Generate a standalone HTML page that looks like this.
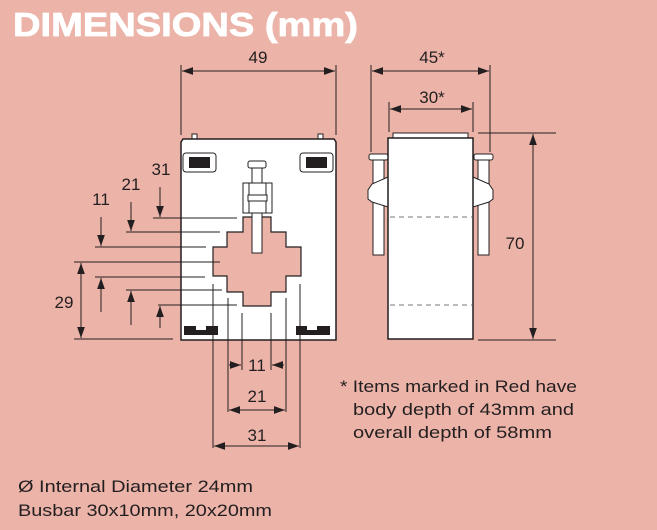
<!DOCTYPE html>
<html><head><meta charset="utf-8"><style>
html,body{margin:0;padding:0;background:#ecb3a8;}
svg{display:block}
text{font-family:"Liberation Sans",sans-serif;fill:#231f20}
</style></head><body>
<svg width="657" height="530" viewBox="0 0 657 530" xmlns="http://www.w3.org/2000/svg">
<defs>
<marker id="a" viewBox="0 0 10 10" refX="10" refY="5" markerWidth="11" markerHeight="11" markerUnits="userSpaceOnUse" orient="auto-start-reverse"><path d="M0,1.5 L10,5 L0,8.5z" fill="#231f20"/></marker>
</defs>
<rect width="657" height="530" fill="#ecb3a8"/>
<text x="13" y="36" font-size="33" font-weight="bold" style="fill:#fff;stroke:#fff;stroke-width:0.8" textLength="345" lengthAdjust="spacingAndGlyphs">DIMENSIONS (mm)</text>

<g stroke="#231f20" stroke-width="1" fill="none">
<line x1="181" y1="65" x2="181" y2="135"/><line x1="336" y1="65" x2="336" y2="135"/>
<line x1="182" y1="71" x2="335" y2="71" marker-start="url(#a)" marker-end="url(#a)"/>
<line x1="371" y1="65" x2="371" y2="152"/><line x1="490" y1="65" x2="490" y2="152"/>
<line x1="372" y1="71" x2="489" y2="71" marker-start="url(#a)" marker-end="url(#a)"/>
<line x1="389" y1="102" x2="389" y2="132"/><line x1="473" y1="102" x2="473" y2="132"/>
<line x1="390" y1="109" x2="472" y2="109" marker-start="url(#a)" marker-end="url(#a)"/>
<line x1="478" y1="133" x2="556" y2="133"/><line x1="478" y1="340" x2="556" y2="340"/>
<line x1="533" y1="134" x2="533" y2="339" marker-start="url(#a)" marker-end="url(#a)"/>
</g>

<rect x="192" y="134" width="5" height="6" fill="#fff" stroke="#231f20"/>
<rect x="318" y="134" width="5" height="6" fill="#fff" stroke="#231f20"/>
<path d="M183,139 L334,139 L336,142 L336,340 L181,340 L181,142Z" fill="#fff" stroke="#231f20" stroke-width="1.5"/>
<rect x="183" y="153" width="33" height="19" rx="3" fill="#fff" stroke="#231f20"/>
<rect x="189" y="157" width="21" height="11" fill="#231f20"/>
<rect x="300" y="153" width="33" height="19" rx="3" fill="#fff" stroke="#231f20"/>
<rect x="306" y="157" width="21" height="11" fill="#231f20"/>
<path d="M243,217 L271,217 L271,232 L286,232 L286,247 L301,247 L301,276 L286,276 L286,292 L271,292 L271,306 L243,306 L243,292 L227,292 L227,276 L213,276 L213,247 L227,247 L227,232 L243,232Z" fill="#ecb3a8" stroke="#231f20" stroke-width="1.2"/>
<rect x="252" y="168" width="10" height="85" fill="#fff" stroke="#231f20"/>
<rect x="248" y="161" width="18" height="7" rx="2" fill="#fff" stroke="#231f20"/>
<rect x="243" y="183" width="29" height="30" fill="#fff" stroke="#231f20"/>
<rect x="249" y="183" width="17" height="30" fill="#fff" stroke="#231f20"/>
<rect x="248" y="195" width="19" height="6" fill="#fff" stroke="#231f20"/>
<path d="M184,326 L218,326 L218,335 L184,335Z M196,326 L196,330 L206,330 L206,326Z" fill="#231f20" fill-rule="evenodd"/>
<path d="M296,326 L330,326 L330,335 L296,335Z M307,326 L307,330 L317,330 L317,326Z" fill="#231f20" fill-rule="evenodd"/>

<g stroke="#231f20" stroke-width="1" fill="none">
<line x1="153" y1="218" x2="237" y2="218"/>
<line x1="126" y1="232" x2="220" y2="232"/>
<line x1="95" y1="247" x2="206" y2="247"/>
<line x1="74" y1="262" x2="220" y2="262"/>
<line x1="95" y1="277" x2="205" y2="277"/>
<line x1="126" y1="290" x2="222" y2="290"/>
<line x1="158" y1="305" x2="237" y2="305"/>
<line x1="74" y1="339" x2="173" y2="339"/>
<line x1="160" y1="187" x2="160" y2="217" marker-end="url(#a)"/>
<line x1="131" y1="202" x2="131" y2="231" marker-end="url(#a)"/>
<line x1="101" y1="217" x2="101" y2="246" marker-end="url(#a)"/>
<line x1="81" y1="263" x2="81" y2="338" marker-start="url(#a)" marker-end="url(#a)"/>
<line x1="101" y1="312" x2="101" y2="278" marker-end="url(#a)"/>
<line x1="131" y1="325" x2="131" y2="291" marker-end="url(#a)"/>
<line x1="160" y1="328" x2="160" y2="306" marker-end="url(#a)"/>
<line x1="213" y1="284" x2="213" y2="448"/>
<line x1="228" y1="298" x2="228" y2="412"/>
<line x1="242" y1="313" x2="242" y2="370"/>
<line x1="271" y1="313" x2="271" y2="370"/>
<line x1="286" y1="298" x2="286" y2="412"/>
<line x1="300" y1="284" x2="300" y2="448"/>
<line x1="229" y1="365" x2="241" y2="365" marker-end="url(#a)"/>
<line x1="284" y1="365" x2="272" y2="365" marker-end="url(#a)"/>
<line x1="229" y1="410" x2="285" y2="410" marker-start="url(#a)" marker-end="url(#a)"/>
<line x1="214" y1="446" x2="299" y2="446" marker-start="url(#a)" marker-end="url(#a)"/>
</g>

<rect x="393" y="133" width="75" height="5" fill="#fff" stroke="#231f20"/>
<rect x="373" y="159" width="11" height="96" fill="#fff" stroke="#231f20"/>
<rect x="478" y="159" width="11" height="96" fill="#fff" stroke="#231f20"/>
<rect x="369" y="154" width="19" height="6" rx="2" fill="#fff" stroke="#231f20"/>
<rect x="474" y="154" width="19" height="6" rx="2" fill="#fff" stroke="#231f20"/>
<path d="M388,177 L372,184 L368,190 L368,199 L372,202 L388,207Z" fill="#fff" stroke="#231f20"/>
<path d="M473,177 L489,184 L493,190 L493,199 L489,202 L473,207Z" fill="#fff" stroke="#231f20"/>
<rect x="388" y="138" width="85" height="201" fill="#fff" stroke="#231f20" stroke-width="1.5"/>
<line x1="390" y1="217" x2="472" y2="217" stroke="#777" stroke-dasharray="5,4"/>
<line x1="390" y1="305" x2="472" y2="305" stroke="#777" stroke-dasharray="5,4"/>

<g font-size="17">
<text x="258" y="63" text-anchor="middle">49</text>
<text x="432" y="63" text-anchor="middle">45*</text>
<text x="432" y="103" text-anchor="middle">30*</text>
<text x="515" y="249" text-anchor="middle">70</text>
<text x="161" y="175" text-anchor="middle">31</text>
<text x="131" y="190" text-anchor="middle">21</text>
<text x="101" y="205" text-anchor="middle">11</text>
<text x="64" y="308" text-anchor="middle">29</text>
<text x="257" y="371" text-anchor="middle">11</text>
<text x="257" y="402" text-anchor="middle">21</text>
<text x="257" y="441" text-anchor="middle">31</text>
<text x="340" y="392" textLength="237" lengthAdjust="spacingAndGlyphs">* Items marked in Red have</text>
<text x="353" y="415" textLength="221" lengthAdjust="spacingAndGlyphs">body depth of 43mm and</text>
<text x="353" y="438" textLength="199" lengthAdjust="spacingAndGlyphs">overall depth of 58mm</text>
<text x="18" y="492" textLength="235" lengthAdjust="spacingAndGlyphs">Ø Internal Diameter 24mm</text>
<text x="18" y="516" textLength="254" lengthAdjust="spacingAndGlyphs">Busbar 30x10mm, 20x20mm</text>
</g>
</svg>
</body></html>
